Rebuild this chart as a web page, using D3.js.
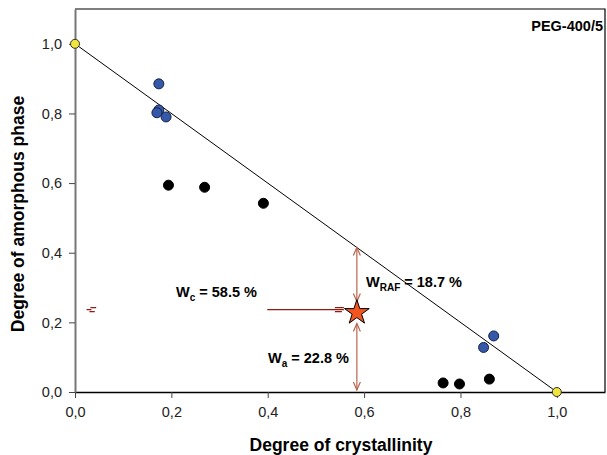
<!DOCTYPE html>
<html>
<head>
<meta charset="utf-8">
<script src="https://cdn.jsdelivr.net/npm/d3@7"></script>
<style>
  body { margin: 0; background: #fff; }
  svg { display: block; font-family: "Liberation Sans", Arial, sans-serif; }
</style>
</head>
<body>
<svg id="chart"></svg>
<script>
// data
const blueX  = [0.174, 0.174, 0.170, 0.189, 0.848, 0.869];
const blueY  = [0.885, 0.810, 0.802, 0.790, 0.128, 0.161];
const blackX = [0.194, 0.269, 0.391, 0.764, 0.798, 0.860];
const blackY = [0.594, 0.588, 0.542, 0.026, 0.023, 0.037];
const endX   = [0.0, 1.0];
const endY   = [1.0, 0.0];
const starPt = [0.585, 0.228];
const ticks  = [0, 0.2, 0.4, 0.6, 0.8, 1.0];
const sampleName = "PEG-400/5";

const width = 607, height = 455;
const margin = {top: 9, right: 2, bottom: 63, left: 75};

const x = d3.scaleLinear().domain([0, 1.1]).range([margin.left, width - margin.right]);
const y = d3.scaleLinear().domain([0, 1.1]).range([height - margin.bottom, margin.top]);
const fmt = d => d3.format(".1f")(d).replace(".", ",");

const svg = d3.select("#chart").attr("width", width).attr("height", height);

// frame top / right
svg.append("path")
  .attr("d", `M${x(0)},${y(1.1)}H${x(1.1)}V${y(0)}`)
  .attr("fill", "none").attr("stroke", "#000").attr("stroke-width", 1.2);

const xAxis = svg.append("g")
  .attr("transform", `translate(0,${y(0)})`)
  .call(d3.axisBottom(x).tickValues(ticks).tickFormat(fmt).tickSize(6).tickPadding(9).tickSizeOuter(0));
xAxis.select(".domain").attr("stroke", "#000").attr("stroke-width", 1.6);

const yAxis = svg.append("g")
  .attr("transform", `translate(${x(0)},0)`)
  .call(d3.axisLeft(y).tickValues(ticks).tickFormat(fmt).tickSize(6).tickPadding(7).tickSizeOuter(0));
yAxis.select(".domain").attr("stroke", "#777").attr("stroke-width", 2);

svg.selectAll(".tick text").attr("font-size", 14.5).attr("fill", "#222")
  .attr("font-family", "Liberation Sans, Arial, sans-serif");
svg.selectAll(".tick line").attr("stroke", "#444");

// axis titles
svg.append("text")
  .attr("x", 341).attr("y", 451)
  .attr("text-anchor", "middle").attr("font-weight", "bold").attr("font-size", 17.5)
  .text("Degree of crystallinity");
svg.append("text")
  .attr("transform", `translate(24,214) rotate(-90)`)
  .attr("text-anchor", "middle").attr("font-weight", "bold").attr("font-size", 17.5)
  .text("Degree of amorphous phase");

svg.append("text")
  .attr("x", 603).attr("y", 31).attr("text-anchor", "end")
  .attr("font-weight", "bold").attr("font-size", 14.5)
  .text(sampleName);

// ideal line
svg.append("line")
  .attr("x1", x(endX[0])).attr("y1", y(endY[0]))
  .attr("x2", x(endX[1])).attr("y2", y(endY[1]))
  .attr("stroke", "#000").attr("stroke-width", 1);

// arrows
const arrowC = "#b8654f", arrowH = "#8e1c10";
function arrowHead(g, px, py, dx, dy, color) {
  const L = 8, W = 3.5;
  const nx = -dy, ny = dx;
  g.append("path")
    .attr("d", `M${px - dx * L + nx * W},${py - dy * L + ny * W}L${px},${py}L${px - dx * L - nx * W},${py - dy * L - ny * W}`)
    .attr("fill", "none").attr("stroke", color).attr("stroke-width", 1.2);
}
function dblArrow(x0, y0, y1, color) {
  const g = svg.append("g");
  g.append("line").attr("x1", x0).attr("x2", x0).attr("y1", y0).attr("y2", y1)
    .attr("stroke", color).attr("stroke-width", 1.2);
  arrowHead(g, x0, y0, 0, -1, color);
  arrowHead(g, x0, y1, 0, 1, color);
}
const sx = x(starPt[0]), sy = y(starPt[1]);
dblArrow(sx, y(1 - starPt[0]), sy - 11, arrowC);
dblArrow(sx, sy + 11, y(0) - 2, arrowC);

const hg = svg.append("g");
hg.append("line").attr("x1", x(0.399)).attr("x2", sx - 13).attr("y1", sy - 3).attr("y2", sy - 3)
  .attr("stroke", arrowH).attr("stroke-width", 1.2);
hg.append("path")
  .attr("d", `M${sx - 22},${sy - 5}H${sx - 13}M${sx - 22},${sy - 1}H${sx - 15}`)
  .attr("stroke", arrowH).attr("stroke-width", 1.2);
// stray mark near the axis
svg.append("path")
  .attr("d", `M${x(0.024)},${sy - 3}H${x(0.034)}M${x(0.032)},${sy - 5}H${x(0.044)}M${x(0.030)},${sy - 1}H${x(0.041)}`)
  .attr("stroke", arrowH).attr("stroke-width", 1.3);

// points
svg.append("g").selectAll("circle").data(blackX.map((d, i) => [d, blackY[i]])).join("circle")
  .attr("cx", d => x(d[0])).attr("cy", d => y(d[1])).attr("r", 5)
  .attr("fill", "#000").attr("stroke", "#000");
svg.append("g").selectAll("circle").data(blueX.map((d, i) => [d, blueY[i]])).join("circle")
  .attr("cx", d => x(d[0])).attr("cy", d => y(d[1])).attr("r", 5)
  .attr("fill", "#3558a8").attr("stroke", "#14224a").attr("stroke-width", 1);
svg.append("g").selectAll("circle").data(endX.map((d, i) => [d, endY[i]])).join("circle")
  .attr("cx", d => x(d[0])).attr("cy", d => y(d[1])).attr("r", 4.5)
  .attr("fill", "#f2e53a").attr("stroke", "#333").attr("stroke-width", 1);

// star
svg.append("path")
  .attr("transform", `translate(${sx},${sy})`)
  .attr("d", d3.symbol(d3.symbolStar, 190)())
  .attr("fill", "#f2561e").attr("stroke", "#000").attr("stroke-width", 1);

// annotation labels
function label(px, py, main, sub, rest) {
  const t = svg.append("text").attr("x", px).attr("y", py)
    .attr("font-weight", "bold").attr("font-size", 14.5);
  t.append("tspan").text(main);
  t.append("tspan").attr("font-size", 10).attr("dy", 4).text(sub);
  t.append("tspan").attr("dy", -4).text(rest);
}
label(176, 297, "W", "c", " = 58.5 %");
label(366, 287, "W", "RAF", " = 18.7 %");
label(268, 363, "W", "a", " = 22.8 %");
</script>
</body>
</html>
